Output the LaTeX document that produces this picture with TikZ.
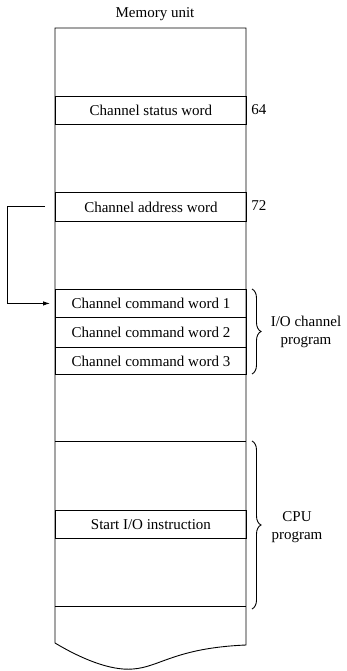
\documentclass[tikz,border=0pt]{standalone}
\usepackage{fontspec}
\setmainfont{Liberation Serif}
\usetikzlibrary{arrows.meta,decorations.pathreplacing}
\begin{document}
\begin{tikzpicture}[x=1pt,y=-1pt,
  line width=0.9pt,
  every node/.style={font=\fontsize{15}{18}\selectfont},
  word/.style={draw, minimum width=191pt, minimum height=28pt, inner sep=0pt, anchor=north west},
  addr/.style={anchor=west, inner sep=0pt},
  bracestyle/.style={decorate, decoration={brace, amplitude=9pt}},
  lbl/.style={align=center, inner sep=0pt}]
\useasboundingbox (0,0) rectangle (347,671);
\node (title) at (155,14) {Memory unit};
% outline
\draw (55,643) -- (55,28) -- (246,28) -- (246,645)
  .. controls (175,648) and (160,667) .. (133,669)
  .. controls (110,671) and (80,658) .. (55,643);
% word boxes
\node[word, minimum height=28pt] (csw) at (55,96) {Channel status word};
\node[word, minimum height=29pt] (caw) at (55,192) {Channel address word};
\node[word, minimum height=28pt] (ccw1) at (55,289) {Channel command word 1};
\node[word, minimum height=30pt] (ccw2) at (55,317) {Channel command word 2};
\node[word, minimum height=27pt] (ccw3) at (55,347) {Channel command word 3};
\node[word, minimum height=28pt] (sio) at (55,510) {Start I/O instruction};
\coordinate (l1a) at (55,441); \coordinate (l1b) at (246,441);
\coordinate (l2a) at (55,606); \coordinate (l2b) at (246,606);
\draw (l1a) -- (l1b);
\draw (l2a) -- (l2b);
% addresses
\node[addr] (a64) at (251,110) {64};
\node[addr] (a72) at (251,206) {72};
% pointer arrow
\coordinate (pstart) at (45,206);
\draw[-{Latex[length=7pt,width=4.5pt]}, shorten >=5pt] (pstart) -- (7,206) |- (ccw1.west);
% braces
\coordinate (b1t) at (252,289); \coordinate (b1b) at (252,374);
\coordinate (b2t) at (252,441); \coordinate (b2b) at (252,609);
\draw[bracestyle] (b1t) -- (b1b);
\draw[bracestyle] (b2t) -- (b2b);
\node[lbl] (iop) at (306,332) {I/O channel\\program};
\node[lbl] (cpup) at (297,527) {CPU\\program};
\end{tikzpicture}
\end{document}
